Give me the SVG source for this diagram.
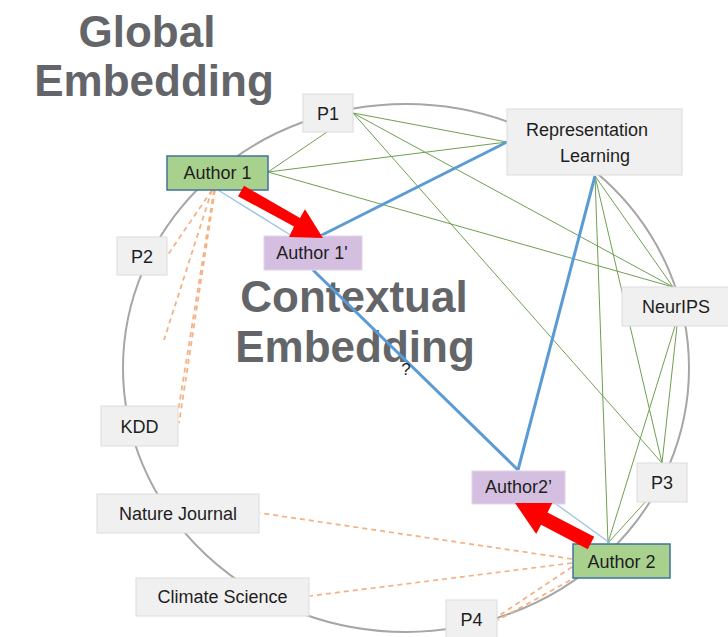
<svg xmlns="http://www.w3.org/2000/svg" width="728" height="637" viewBox="0 0 728 637">
  <style>
    .title { font-family: "Liberation Sans", Arial, sans-serif; font-weight: bold; font-size: 44px; fill: #636569; text-anchor: middle; }
    .lbl { font-family: "Liberation Sans", Arial, sans-serif; font-size: 18px; fill: #1e1e1e; text-anchor: middle; }
    .box { fill: #f0f0f0; stroke: #dcdcdc; stroke-width: 1; }
    .author { fill: #a9d18e; stroke: #41719c; stroke-width: 1.5; }
    .ctx { fill: #d5bfe1; stroke: #e2d3ea; stroke-width: 1; }
    .ring { fill: none; stroke: #a6a6a6; stroke-width: 2; }
    .venue { stroke: #6f9f52; stroke-width: 1; fill: none; }
    .dash { stroke: #f4b183; stroke-width: 1.75; stroke-dasharray: 5 4; fill: none; }
    .ctxlink { stroke: #5b9bd5; stroke-width: 3; fill: none; }
    .shift { stroke: #9dc3e6; stroke-width: 1.3; fill: none; }
    .move { fill: #ff0000; }
  </style>

  <rect width="728" height="637" fill="#ffffff"/>

  <!-- headings -->
  <g id="heading-global">
    <text class="title" x="147" y="47">Global</text>
    <text class="title" x="154" y="96">Embedding</text>
  </g>
  <g id="heading-contextual">
    <text class="title" x="354" y="312">Contextual</text>
    <text class="title" x="355" y="362">Embedding</text>
  </g>

  <!-- global embedding ring -->
  <ellipse class="ring" cx="406" cy="368" rx="283" ry="264"/>

  <g id="connectors">
    <!-- co-occurrence links -->
    <line class="venue" x1="327" y1="132" x2="268" y2="172"/>
    <line class="venue" x1="353" y1="113" x2="507" y2="142"/>
    <line class="venue" x1="353" y1="113" x2="673" y2="287"/>
    <line class="venue" x1="353" y1="113" x2="662" y2="463"/>
    <line class="venue" x1="268" y1="172" x2="507" y2="142"/>
    <line class="venue" x1="268" y1="172" x2="673" y2="287"/>
    <line class="venue" x1="595" y1="176" x2="673" y2="287"/>
    <line class="venue" x1="595" y1="176" x2="662" y2="463"/>
    <line class="venue" x1="595" y1="176" x2="608" y2="543"/>
    <line class="venue" x1="677" y1="326" x2="662" y2="463"/>
    <line class="venue" x1="675" y1="326" x2="608" y2="543"/>
    <line class="venue" x1="648" y1="499" x2="608" y2="543"/>

    <!-- weak links -->
    <line class="dash" x1="212" y1="190" x2="167" y2="256"/>
    <line class="dash" x1="212" y1="190" x2="164" y2="340"/>
    <line class="dash" x1="214" y1="190" x2="178" y2="412"/>
    <line class="dash" x1="215" y1="190" x2="179" y2="423"/>
    <line class="dash" x1="572" y1="559" x2="260" y2="513"/>
    <line class="dash" x1="572" y1="563" x2="310" y2="596"/>
    <line class="dash" x1="572" y1="567" x2="497" y2="617"/>
    <line class="dash" x1="578" y1="576" x2="498" y2="620"/>

    <!-- global to contextual offsets -->
    <line class="shift" x1="218" y1="190" x2="292" y2="236"/>
    <line class="shift" x1="610" y1="543" x2="556" y2="504"/>

    <!-- contextual links -->
    <line class="ctxlink" x1="320" y1="236" x2="507" y2="142"/>
    <line class="ctxlink" x1="313" y1="270" x2="518" y2="470"/>
    <line class="ctxlink" x1="595" y1="176" x2="518" y2="470"/>
  </g>

  <!-- nodes -->
  <g id="p1"><rect class="box" x="303" y="94" width="50" height="38"/><text class="lbl" x="328" y="120">P1</text></g>
  <g id="representation-learning"><rect class="box" x="507" y="109" width="175" height="66"/><text class="lbl" x="587" y="136">Representation</text><text class="lbl" x="595" y="162">Learning</text></g>
  <g id="neurips"><rect class="box" x="622" y="287" width="108" height="39"/><text class="lbl" x="676" y="313">NeurIPS</text></g>
  <g id="p2"><rect class="box" x="117" y="237" width="50" height="38"/><text class="lbl" x="142" y="263">P2</text></g>
  <g id="kdd"><rect class="box" x="101" y="406" width="77" height="40"/><text class="lbl" x="139.5" y="433">KDD</text></g>
  <g id="nature-journal"><rect class="box" x="97" y="494" width="162" height="39"/><text class="lbl" x="178" y="520">Nature Journal</text></g>
  <g id="climate-science"><rect class="box" x="136" y="578" width="173" height="38"/><text class="lbl" x="222.5" y="603">Climate Science</text></g>
  <g id="p3"><rect class="box" x="637" y="463" width="50" height="39"/><text class="lbl" x="662" y="489">P3</text></g>
  <g id="p4"><rect class="box" x="446" y="600" width="51" height="40"/><text class="lbl" x="471.5" y="626">P4</text></g>
  <g id="author-1"><rect class="author" x="167" y="156" width="101" height="34"/><text class="lbl" x="217.5" y="179">Author 1</text></g>
  <g id="author-2"><rect class="author" x="573" y="544" width="97" height="34"/><text class="lbl" x="621.5" y="567.5">Author 2</text></g>
  <g id="author-1-ctx"><rect class="ctx" x="264" y="236" width="98" height="34"/><text class="lbl" x="312" y="258.5">Author 1'</text></g>
  <g id="author-2-ctx"><rect class="ctx" x="472" y="471" width="93" height="33"/><text class="lbl" x="518.5" y="493">Author2’</text></g>

  <!-- contextual shift arrows -->
  <g id="shift-arrows">
    <polygon class="move" points="238,196.2 244,185.8 300,217.9 305,209.2 323,238 289,237 294,226.4"/>
    <polygon class="move" points="594.2,536.8 587.8,549.2 541.1,524.8 536.2,534.1 515,503 552.4,503.1 547.5,512.4"/>
  </g>

  <text class="lbl" x="406" y="375" style="font-size:17px">?</text>
</svg>
